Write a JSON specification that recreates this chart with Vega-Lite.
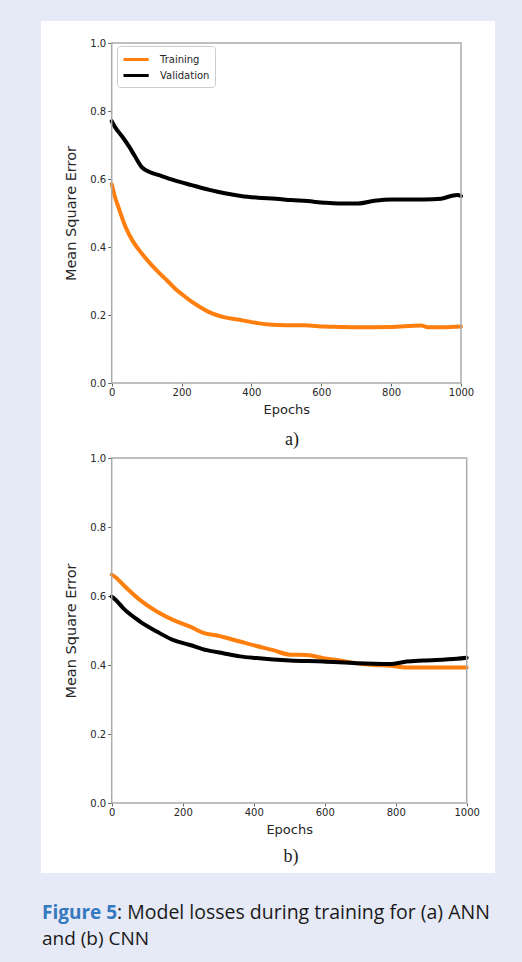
{
  "$schema": "https://vega.github.io/schema/vega-lite/v6.json",
  "background": "#e6eaf6",
  "padding": {"left": 41, "top": 21, "right": 27, "bottom": 0},
  "spacing": 0,
  "bounds": "flush",
  "title": {
    "text": ": Model losses during training for (a) ANN",
    "orient": "bottom",
    "anchor": "start",
    "frame": "group",
    "font": "Open Sans",
    "fontSize": 19.5,
    "fontWeight": "normal",
    "color": "#1a1a1a",
    "dx": 76,
    "offset": -58
  },
  "datasets": {
    "ann": [
      {"epoch": 0, "mse": 0.585, "series": "Training"},
      {"epoch": 10, "mse": 0.545, "series": "Training"},
      {"epoch": 20, "mse": 0.515, "series": "Training"},
      {"epoch": 40, "mse": 0.458, "series": "Training"},
      {"epoch": 60, "mse": 0.418, "series": "Training"},
      {"epoch": 86, "mse": 0.381, "series": "Training"},
      {"epoch": 110, "mse": 0.352, "series": "Training"},
      {"epoch": 133, "mse": 0.327, "series": "Training"},
      {"epoch": 160, "mse": 0.300, "series": "Training"},
      {"epoch": 181, "mse": 0.278, "series": "Training"},
      {"epoch": 205, "mse": 0.258, "series": "Training"},
      {"epoch": 229, "mse": 0.239, "series": "Training"},
      {"epoch": 255, "mse": 0.222, "series": "Training"},
      {"epoch": 276, "mse": 0.210, "series": "Training"},
      {"epoch": 300, "mse": 0.200, "series": "Training"},
      {"epoch": 324, "mse": 0.193, "series": "Training"},
      {"epoch": 350, "mse": 0.188, "series": "Training"},
      {"epoch": 371, "mse": 0.185, "series": "Training"},
      {"epoch": 400, "mse": 0.179, "series": "Training"},
      {"epoch": 419, "mse": 0.176, "series": "Training"},
      {"epoch": 450, "mse": 0.172, "series": "Training"},
      {"epoch": 500, "mse": 0.170, "series": "Training"},
      {"epoch": 550, "mse": 0.170, "series": "Training"},
      {"epoch": 610, "mse": 0.166, "series": "Training"},
      {"epoch": 650, "mse": 0.165, "series": "Training"},
      {"epoch": 705, "mse": 0.164, "series": "Training"},
      {"epoch": 800, "mse": 0.165, "series": "Training"},
      {"epoch": 886, "mse": 0.169, "series": "Training"},
      {"epoch": 905, "mse": 0.164, "series": "Training"},
      {"epoch": 950, "mse": 0.164, "series": "Training"},
      {"epoch": 1000, "mse": 0.166, "series": "Training"},
      {"epoch": 0, "mse": 0.770, "series": "Validation"},
      {"epoch": 10, "mse": 0.752, "series": "Validation"},
      {"epoch": 30, "mse": 0.725, "series": "Validation"},
      {"epoch": 50, "mse": 0.695, "series": "Validation"},
      {"epoch": 67, "mse": 0.666, "series": "Validation"},
      {"epoch": 86, "mse": 0.635, "series": "Validation"},
      {"epoch": 110, "mse": 0.620, "series": "Validation"},
      {"epoch": 133, "mse": 0.612, "series": "Validation"},
      {"epoch": 180, "mse": 0.596, "series": "Validation"},
      {"epoch": 229, "mse": 0.582, "series": "Validation"},
      {"epoch": 280, "mse": 0.568, "series": "Validation"},
      {"epoch": 324, "mse": 0.558, "series": "Validation"},
      {"epoch": 370, "mse": 0.550, "series": "Validation"},
      {"epoch": 419, "mse": 0.545, "series": "Validation"},
      {"epoch": 470, "mse": 0.542, "series": "Validation"},
      {"epoch": 514, "mse": 0.538, "series": "Validation"},
      {"epoch": 560, "mse": 0.535, "series": "Validation"},
      {"epoch": 610, "mse": 0.530, "series": "Validation"},
      {"epoch": 650, "mse": 0.528, "series": "Validation"},
      {"epoch": 705, "mse": 0.528, "series": "Validation"},
      {"epoch": 752, "mse": 0.536, "series": "Validation"},
      {"epoch": 800, "mse": 0.540, "series": "Validation"},
      {"epoch": 895, "mse": 0.540, "series": "Validation"},
      {"epoch": 943, "mse": 0.542, "series": "Validation"},
      {"epoch": 971, "mse": 0.550, "series": "Validation"},
      {"epoch": 990, "mse": 0.553, "series": "Validation"},
      {"epoch": 1000, "mse": 0.550, "series": "Validation"}
    ],
    "cnn": [
      {"epoch": 0, "mse": 0.662, "series": "Training"},
      {"epoch": 10, "mse": 0.655, "series": "Training"},
      {"epoch": 33, "mse": 0.632, "series": "Training"},
      {"epoch": 80, "mse": 0.588, "series": "Training"},
      {"epoch": 127, "mse": 0.555, "series": "Training"},
      {"epoch": 174, "mse": 0.530, "series": "Training"},
      {"epoch": 221, "mse": 0.511, "series": "Training"},
      {"epoch": 258, "mse": 0.493, "series": "Training"},
      {"epoch": 300, "mse": 0.485, "series": "Training"},
      {"epoch": 361, "mse": 0.468, "series": "Training"},
      {"epoch": 408, "mse": 0.455, "series": "Training"},
      {"epoch": 455, "mse": 0.443, "series": "Training"},
      {"epoch": 502, "mse": 0.430, "series": "Training"},
      {"epoch": 549, "mse": 0.429, "series": "Training"},
      {"epoch": 596, "mse": 0.420, "series": "Training"},
      {"epoch": 643, "mse": 0.413, "series": "Training"},
      {"epoch": 690, "mse": 0.405, "series": "Training"},
      {"epoch": 740, "mse": 0.400, "series": "Training"},
      {"epoch": 784, "mse": 0.398, "series": "Training"},
      {"epoch": 831, "mse": 0.393, "series": "Training"},
      {"epoch": 900, "mse": 0.393, "series": "Training"},
      {"epoch": 1000, "mse": 0.393, "series": "Training"},
      {"epoch": 0, "mse": 0.598, "series": "Validation"},
      {"epoch": 10, "mse": 0.590, "series": "Validation"},
      {"epoch": 33, "mse": 0.564, "series": "Validation"},
      {"epoch": 80, "mse": 0.526, "series": "Validation"},
      {"epoch": 127, "mse": 0.497, "series": "Validation"},
      {"epoch": 174, "mse": 0.472, "series": "Validation"},
      {"epoch": 221, "mse": 0.458, "series": "Validation"},
      {"epoch": 268, "mse": 0.443, "series": "Validation"},
      {"epoch": 314, "mse": 0.434, "series": "Validation"},
      {"epoch": 361, "mse": 0.425, "series": "Validation"},
      {"epoch": 408, "mse": 0.420, "series": "Validation"},
      {"epoch": 502, "mse": 0.413, "series": "Validation"},
      {"epoch": 596, "mse": 0.410, "series": "Validation"},
      {"epoch": 690, "mse": 0.405, "series": "Validation"},
      {"epoch": 784, "mse": 0.403, "series": "Validation"},
      {"epoch": 831, "mse": 0.410, "series": "Validation"},
      {"epoch": 878, "mse": 0.413, "series": "Validation"},
      {"epoch": 972, "mse": 0.418, "series": "Validation"},
      {"epoch": 1000, "mse": 0.421, "series": "Validation"}
    ],
    "blank": [{}]
  },
  "vconcat": [
    {
      "width": 454, "height": 429,
      "view": {"fill": "white", "stroke": null},
      "title": {"text": "a)", "orient": "bottom", "anchor": "middle", "frame": "group", "font": "Liberation Serif", "fontSize": 18, "fontWeight": "normal", "color": "#1a1a1a", "dx": 24, "offset": -19},
      "layer": [
        {
          "data": {"name": "ann"},
          "mark": {"type": "line", "strokeWidth": 4, "interpolate": "monotone", "strokeCap": "round"},
          "encoding": {
            "x": {"field": "epoch", "type": "quantitative",
                  "scale": {"domain": [0, 1000], "range": [70.7, 420], "nice": false, "zero": false},
                  "axis": {"title": "Epochs", "values": [0, 200, 400, 600, 800, 1000], "format": "d", "offset": -67, "tickSize": 3, "labelPadding": 1, "titlePadding": 6}},
            "y": {"field": "mse", "type": "quantitative",
                  "scale": {"domain": [0, 1], "range": [362, 22], "nice": false},
                  "axis": {"title": "Mean Square Error", "values": [0, 0.2, 0.4, 0.6, 0.8, 1.0], "format": ".1f", "offset": -70.7, "tickSize": 4, "labelPadding": 2, "titlePadding": 11}},
            "color": {"field": "series", "type": "nominal",
                      "scale": {"domain": ["Training", "Validation"], "range": ["#ff7f0e", "#000000"]},
                      "legend": {"title": null, "orient": "none", "legendX": 76, "legendY": 25}}
          }
        },
        {
          "data": {"name": "blank"},
          "mark": {"type": "rect", "fillOpacity": 0, "stroke": "#ababab", "strokeWidth": 1.5},
          "encoding": {
            "x": {"datum": 0, "type": "quantitative"},
            "x2": {"datum": 1000},
            "y": {"datum": 0, "type": "quantitative"},
            "y2": {"datum": 1}
          }
        }
      ]
    },
    {
      "width": 454, "height": 423,
      "view": {"fill": "white", "stroke": null},
      "title": {"text": "b)", "orient": "bottom", "anchor": "middle", "frame": "group", "font": "Liberation Serif", "fontSize": 18, "fontWeight": "normal", "color": "#1a1a1a", "dx": 23, "offset": -25},
      "layer": [
        {
          "data": {"name": "cnn"},
          "mark": {"type": "line", "strokeWidth": 4, "interpolate": "monotone", "strokeCap": "round"},
          "encoding": {
            "x": {"field": "epoch", "type": "quantitative",
                  "scale": {"domain": [0, 1000], "range": [70.7, 425.7], "nice": false, "zero": false},
                  "axis": {"title": "Epochs", "values": [0, 200, 400, 600, 800, 1000], "format": "d", "offset": -70, "tickSize": 3, "labelPadding": 1, "titlePadding": 6}},
            "y": {"field": "mse", "type": "quantitative",
                  "scale": {"domain": [0, 1], "range": [353, 8], "nice": false},
                  "axis": {"title": "Mean Square Error", "values": [0, 0.2, 0.4, 0.6, 0.8, 1.0], "format": ".1f", "offset": -70.7, "tickSize": 4, "labelPadding": 2, "titlePadding": 11}},
            "color": {"field": "series", "type": "nominal",
                      "scale": {"domain": ["Training", "Validation"], "range": ["#ff7f0e", "#000000"]},
                      "legend": {"title": null, "orient": "none", "legendX": 76, "legendY": 11}}
          }
        },
        {
          "data": {"name": "blank"},
          "mark": {"type": "rect", "fillOpacity": 0, "stroke": "#ababab", "strokeWidth": 1.5},
          "encoding": {
            "x": {"datum": 0, "type": "quantitative"},
            "x2": {"datum": 1000},
            "y": {"datum": 0, "type": "quantitative"},
            "y2": {"datum": 1}
          }
        }
      ]
    },
    {
      "width": 454, "height": 89,
      "view": {"fill": null, "stroke": null},
      "title": {"text": "Figure 5", "subtitle": "and (b) CNN", "orient": "bottom", "anchor": "start", "frame": "group",
                "font": "Open Sans", "fontSize": 19, "fontWeight": "bold", "color": "#3579bf", "dx": 1, "offset": -58,
                "subtitleFont": "Open Sans", "subtitleFontSize": 19, "subtitleFontWeight": "normal", "subtitleColor": "#1a1a1a", "subtitlePadding": 7},
      "data": {"name": "blank"},
      "mark": {"type": "point", "opacity": 0}
    }
  ],
  "config": {
    "view": {"stroke": null},
    "font": "DejaVu Sans",
    "axis": {
      "grid": false,
      "domain": false,
      "labelFlush": false,
      "labelFont": "DejaVu Sans",
      "labelFontSize": 10,
      "labelColor": "#262626",
      "titleFont": "DejaVu Sans",
      "titleFontWeight": "normal",
      "titleColor": "#262626",
      "tickColor": "#666666",
      "tickWidth": 1
    },
    "axisX": {"titleFontSize": 13},
    "axisY": {"titleFontSize": 14.5},
    "legend": {
      "symbolType": "M-1,0H2.6",
      "symbolStrokeWidth": 3,
      "symbolSize": 196,
      "labelFont": "DejaVu Sans",
      "labelFontSize": 10,
      "labelColor": "#262626",
      "labelOffset": 21,
      "fillColor": "white",
      "strokeColor": "#cccccc",
      "cornerRadius": 3,
      "padding": 5,
      "rowPadding": 1
    }
  }
}
